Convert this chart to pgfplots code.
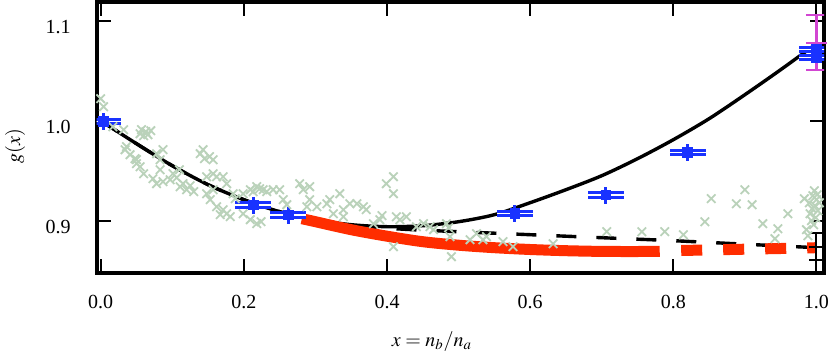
\documentclass[border=0pt]{standalone}
\usepackage{mathptmx}
\usepackage{fontspec}
\setmainfont{Liberation Serif}
\usepackage{pgfplots}
\usepackage{pgfplotstable}
\pgfplotsset{compat=1.18}

\definecolor{crossgreen}{RGB}{186,210,186}
\definecolor{ptblue}{RGB}{25,50,255}
\definecolor{ptred}{RGB}{255,45,0}
\definecolor{ptmag}{RGB}{210,70,210}

% scattered samples
\pgfplotstableread{
x y
0.000 1.022
0.004 1.014
0.017 0.994
0.032 0.991
0.036 0.974
0.034 0.971
0.041 0.966
0.048 0.962
0.050 0.957
0.055 0.954
0.050 0.961
0.060 0.947
0.055 0.987
0.057 0.991
0.060 0.985
0.063 0.989
0.066 0.986
0.070 0.990
0.078 0.967
0.083 0.961
0.087 0.971
0.083 0.951
0.073 0.942
0.078 0.937
0.087 0.939
0.097 0.941
0.101 0.947
0.106 0.943
0.110 0.951
0.111 0.934
0.115 0.937
0.120 0.931
0.125 0.935
0.130 0.929
0.139 0.967
0.143 0.971
0.145 0.962
0.157 0.961
0.152 0.964
0.148 0.944
0.157 0.947
0.162 0.944
0.171 0.944
0.176 0.937
0.148 0.927
0.153 0.921
0.162 0.914
0.171 0.911
0.167 0.906
0.176 0.907
0.181 0.904
0.185 0.927
0.188 0.922
0.157 0.931
0.199 0.927
0.209 0.931
0.213 0.929
0.218 0.934
0.222 0.932
0.227 0.931
0.232 0.929
0.199 0.907
0.209 0.901
0.218 0.897
0.224 0.899
0.241 0.931
0.250 0.931
0.255 0.921
0.260 0.916
0.278 0.937
0.283 0.931
0.292 0.934
0.292 0.921
0.288 0.914
0.302 0.914
0.316 0.917
0.320 0.921
0.325 0.907
0.334 0.927
0.339 0.904
0.339 0.911
0.348 0.917
0.358 0.917
0.367 0.914
0.371 0.911
0.381 0.897
0.390 0.901
0.393 0.905
0.399 0.937
0.409 0.944
0.409 0.927
0.409 0.874
0.413 0.904
0.418 0.901
0.427 0.904
0.441 0.894
0.451 0.897
0.460 0.894
0.465 0.891
0.483 0.897
0.486 0.893
0.488 0.884
0.490 0.864
0.516 0.881
0.525 0.887
0.534 0.881
0.539 0.884
0.562 0.879
0.576 0.874
0.632 0.877
0.707 0.889
0.756 0.889
0.788 0.889
0.814 0.886
0.844 0.899
0.853 0.922
0.888 0.917
0.900 0.931
0.910 0.916
0.925 0.897
0.942 0.882
0.946 0.892
0.960 0.907
0.986 0.891
0.991 0.907
0.990 0.918
0.995 0.925
0.998 0.915
1.000 0.921
0.997 0.930
0.993 0.900
1.002 0.910
0.996 0.896
0.988 0.885
1.001 0.926
0.994 0.912
0.999 0.903
0.983 0.922
1.004 0.918
}\scatterdata

% blue data points
\pgfplotstableread{
x y
0.0036 0.9990
0.2130 0.9157
0.2620 0.9057
0.5786 0.9074
0.7057 0.9257
0.8200 0.9680
1.0000 1.0715
1.0000 1.0635
}\bluedata

\begin{document}
\begin{tikzpicture}
\useasboundingbox (-48.35pt,-40.75pt) rectangle (366.65pt,136.25pt);
\begin{axis}[
  at={(0pt,0pt)}, anchor=south west,
  scale only axis,
  width=363.65pt, height=135.25pt,
  xmin=-0.0056, xmax=1.0105,
  ymin=0.8482, ymax=1.1187,
  xtick={0,0.2,0.4,0.6,0.8,1.0},
  ytick={0.9,1.0,1.1},
  minor tick num=0,
  tick align=inside,
  major tick length=7pt,
  every tick/.style={black, line width=1pt},
  axis line style={line width=2pt},
  /pgf/number format/assume math mode=true,
  xticklabel style={/pgf/number format/.cd, fixed, fixed zerofill, precision=1, /tikz/.cd, yshift=-7.8pt},
  yticklabel style={/pgf/number format/.cd, fixed, fixed zerofill, precision=1, /tikz/.cd, xshift=-9.5pt, yshift=-3pt},
  xlabel={$x = n_b/n_a$},
  ylabel={$g(x)$},
  label style={font=\fontsize{11}{13}\selectfont},
  every axis x label/.style={at={(axis description cs:0.461,-0.2736)}, anchor=base},
  every axis y label/.style={at={(axis description cs:-0.1122,0.466)}, rotate=90, anchor=center},
]
% solid fit
\addplot[black, line width=1.7pt, smooth] coordinates {
(0.00,1.000) (0.05,0.977) (0.10,0.955) (0.15,0.936) (0.20,0.921)
(0.25,0.909) (0.30,0.901) (0.35,0.896) (0.40,0.894) (0.45,0.895)
(0.50,0.899) (0.55,0.906) (0.60,0.918) (0.65,0.931) (0.70,0.945)
(0.75,0.962) (0.80,0.981) (0.85,1.002) (0.90,1.026) (0.95,1.051)
(1.00,1.077)
};
% scatter
\addplot[only marks, mark=x, mark size=3pt, crossgreen, mark options={line width=0.9pt}] table[x=x, y=y] {\scatterdata};
% dashed fit
\addplot[black, line width=1.7pt, smooth, dash pattern=on 10pt off 10pt] coordinates {
(0.00,1.000) (0.05,0.977) (0.10,0.955) (0.15,0.936) (0.20,0.921)
(0.25,0.909) (0.30,0.901) (0.35,0.8955) (0.40,0.8925) (0.45,0.8905)
(0.50,0.889) (0.60,0.886) (0.70,0.883) (0.80,0.880) (0.90,0.8765)
(1.00,0.873)
};
% red curve
\addplot[ptred, line width=5.5pt, smooth] coordinates {
(0.281,0.902) (0.30,0.899) (0.35,0.891) (0.40,0.8845) (0.45,0.879)
(0.50,0.8755) (0.55,0.873) (0.60,0.8712) (0.65,0.870) (0.70,0.8693)
(0.75,0.8692) (0.781,0.8694)
};
\addplot[ptred, line width=5.5pt, dash pattern=on 10.5pt off 10.5pt] coordinates {
(0.811,0.8702) (0.85,0.8708) (0.90,0.8715) (0.95,0.8722) (1.00,0.873)
};
% black error bar at x = 1
\addplot[black, only marks, mark=-, mark size=3.5pt, mark options={line width=1pt},
  error bars/.cd, y dir=both, y fixed=0.0135,
  error bar style={line width=1pt},
  error mark options={rotate=90, mark size=3.5pt, line width=1pt}] coordinates {(1.0,0.874)};
% blue points
\addplot[ptblue, only marks, mark=none,
  error bars/.cd, x dir=both, x fixed=0.025,
  error bar style={line width=3.6pt}, error mark=none] table[x=x, y=y] {\bluedata};
\addplot[white, only marks, mark=none,
  error bars/.cd, x dir=both, x fixed=0.025,
  error bar style={line width=0.6pt}, error mark=none] table[x=x, y=y] {\bluedata};
\addplot[ptblue, only marks, mark=square*, mark size=2.4pt,
  error bars/.cd, y dir=both, y fixed=0.0085,
  error bar style={line width=1.6pt}, error mark=none] table[x=x, y=y] {\bluedata};
% magenta point
\addplot[ptmag, only marks, mark=-, mark size=5.3pt, mark options={line width=1pt},
  error bars/.cd, y dir=both, y fixed=0.0275,
  error bar style={line width=1.3pt},
  error mark options={rotate=90, mark size=5.3pt, line width=1pt}] coordinates {(1.0,1.078)};
\end{axis}
\end{tikzpicture}
\end{document}
